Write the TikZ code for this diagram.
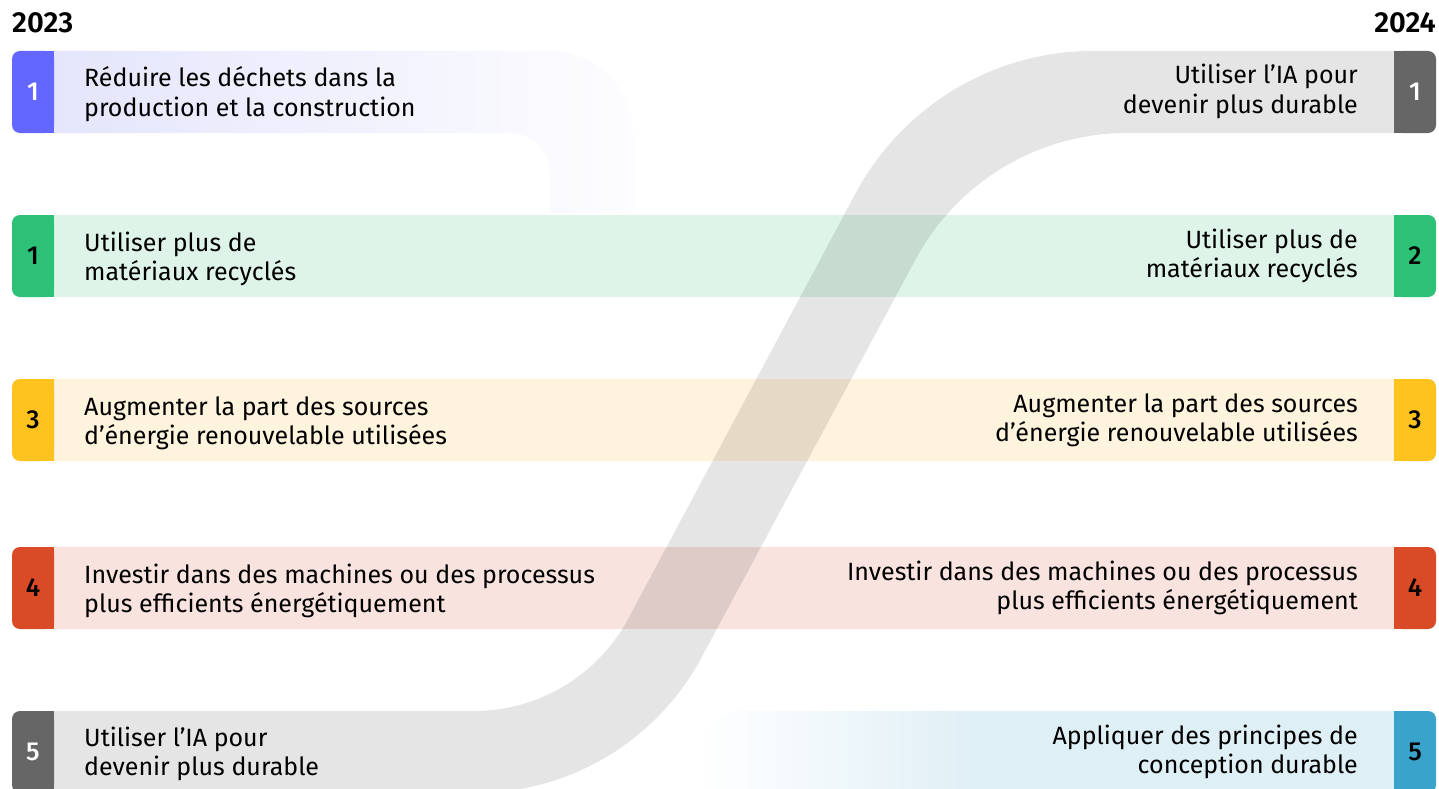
\documentclass[tikz,border=0pt]{standalone}
\usepackage{fontspec}
\setmainfont{Fira Sans}
\newfontfamily\numfont{Fira Sans Medium}
\newfontfamily\yearfont{Fira Sans SemiBold}
\definecolor{purp}{RGB}{99,102,255}
\definecolor{lav}{RGB}{229,229,252}
\colorlet{lavmid}{lav!75!white}
\colorlet{lavend}{lav!8!white}
\definecolor{grn}{RGB}{45,193,119}
\definecolor{grnbg}{RGB}{223,244,233}
\definecolor{yel}{RGB}{255,195,31}
\definecolor{yelbg}{RGB}{254,243,221}
\definecolor{redbx}{RGB}{217,75,38}
\definecolor{redbg}{RGB}{248,227,222}
\definecolor{gry}{RGB}{102,102,102}
\definecolor{blu}{RGB}{57,163,204}
\definecolor{blubg}{RGB}{223,239,246}
\pgfdeclarehorizontalshading{lavfade}{100bp}{color(0bp)=(lav); color(25bp)=(lav); color(38bp)=(lavmid); color(75bp)=(lavend); color(100bp)=(lavend)}
\pgfdeclarehorizontalshading{blufade}{100bp}{color(0bp)=(white); color(25bp)=(white); color(45bp)=(blubg); color(100bp)=(blubg)}
\tikzset{
  numtxt/.style={minimum width=42pt, minimum height=82pt, inner sep=0pt, rounded corners=8pt, font=\numfont\fontsize{26}{26}\selectfont},
  ltxt/.style={anchor=base west, align=left, inner sep=0pt, font=\fontsize{25}{29.5}\selectfont},
  rtxt/.style={anchor=base east, align=right, inner sep=0pt, font=\fontsize{25}{29.5}\selectfont},
  yeartxt/.style={inner sep=0pt, font=\yearfont\fontsize{29}{29}\selectfont}
}
\begin{document}
\begin{tikzpicture}[x=1pt,y=1pt]
\useasboundingbox (0,0) rectangle (1439,-789);
\fill[white] (0,0) rectangle (1439,-789);
\clip (0,0) rectangle (1439,-789);
% full bars
\fill[grnbg] (54,-215) rectangle (1394,-297);
\fill[yelbg] (54,-379) rectangle (1394,-461);
\fill[redbg] (54,-547) rectangle (1394,-629);
% ghost lavender (2023 row 1)
\shade[shading=lavfade] (54,-51) -- (550,-51) arc[start angle=90,end angle=0,radius=83pt] -- (633,-213) -- (550,-213) -- (550,-173) arc[start angle=0,end angle=90,radius=40pt] -- (54,-133) -- cycle;
% blue fade (2024 row 5)
\shade[shading=blufade] (700,-795) -- (700,-751) arc[start angle=180,end angle=90,radius=40pt] -- (1394,-711) -- (1394,-795) -- cycle;
% S band
\fill[black, fill opacity=0.1] (54,-711) -- (474,-711) arc[start angle=-90, end angle=-28.2, radius=175pt] -- (855.6,-193.3) arc[start angle=151.8, end angle=90, radius=270pt] -- (1394,-51) -- (1394,-133) -- (1127,-133) arc[start angle=90, end angle=151.8, radius=240pt] -- (701.5,-657.5) arc[start angle=-28.2, end angle=-90, radius=257pt] -- (54,-795) -- cycle;
% left number boxes
\fill[purp] (40,-51) rectangle (54,-133);
\node[numtxt, fill=purp, text=white] (L1) at (33,-92) {1};
\fill[grn] (40,-215) rectangle (54,-297);
\node[numtxt, fill=grn, text=black] (L2) at (33,-256) {1};
\fill[yel] (40,-379) rectangle (54,-461);
\node[numtxt, fill=yel, text=black] (L3) at (33,-420) {3};
\fill[redbx] (40,-547) rectangle (54,-629);
\node[numtxt, fill=redbx, text=black] (L4) at (33,-588) {4};
\fill[gry] (40,-711) rectangle (54,-793);
\node[numtxt, fill=gry, text=white] (L5) at (33,-752) {5};
% right number boxes
\fill[gry] (1394,-51) rectangle (1408,-133);
\node[numtxt, fill=gry, text=white] (R1) at (1415,-92) {1};
\fill[grn] (1394,-215) rectangle (1408,-297);
\node[numtxt, fill=grn, text=black] (R2) at (1415,-256) {2};
\fill[yel] (1394,-379) rectangle (1408,-461);
\node[numtxt, fill=yel, text=black] (R3) at (1415,-420) {3};
\fill[redbx] (1394,-547) rectangle (1408,-629);
\node[numtxt, fill=redbx, text=black] (R4) at (1415,-588) {4};
\fill[blu] (1394,-711) rectangle (1408,-793);
\node[numtxt, fill=blu, text=black] (R5) at (1415,-752) {5};
% years
\node[yeartxt, anchor=base west] (y23) at (12,-33) {2023};
\node[yeartxt, anchor=base east] (y24) at (1436,-33) {2024};
% left texts (anchor = baseline of last line)
\node[ltxt] (tL1) at (84,-116.5) {Réduire les déchets dans la\\production et la construction};
\node[ltxt] (tL2) at (84,-280.5) {Utiliser plus de\\matériaux recyclés};
\node[ltxt] (tL3) at (84,-444.5) {Augmenter la part des sources\\d’énergie renouvelable utilisées};
\node[ltxt] (tL4) at (84,-612.5) {Investir dans des machines ou des processus\\plus efficients énergétiquement};
\node[ltxt] (tL5) at (84,-775.5) {Utiliser l’IA pour\\devenir plus durable};
% right texts
\node[rtxt] (tR1) at (1358,-113.5) {Utiliser l’IA pour\\devenir plus durable};
\node[rtxt] (tR2) at (1358,-277.5) {Utiliser plus de\\matériaux recyclés};
\node[rtxt] (tR3) at (1358,-441.5) {Augmenter la part des sources\\d’énergie renouvelable utilisées};
\node[rtxt] (tR4) at (1358,-609.5) {Investir dans des machines ou des processus\\plus efficients énergétiquement};
\node[rtxt] (tR5) at (1358,-773.5) {Appliquer des principes de\\conception durable};
\end{tikzpicture}
\end{document}
